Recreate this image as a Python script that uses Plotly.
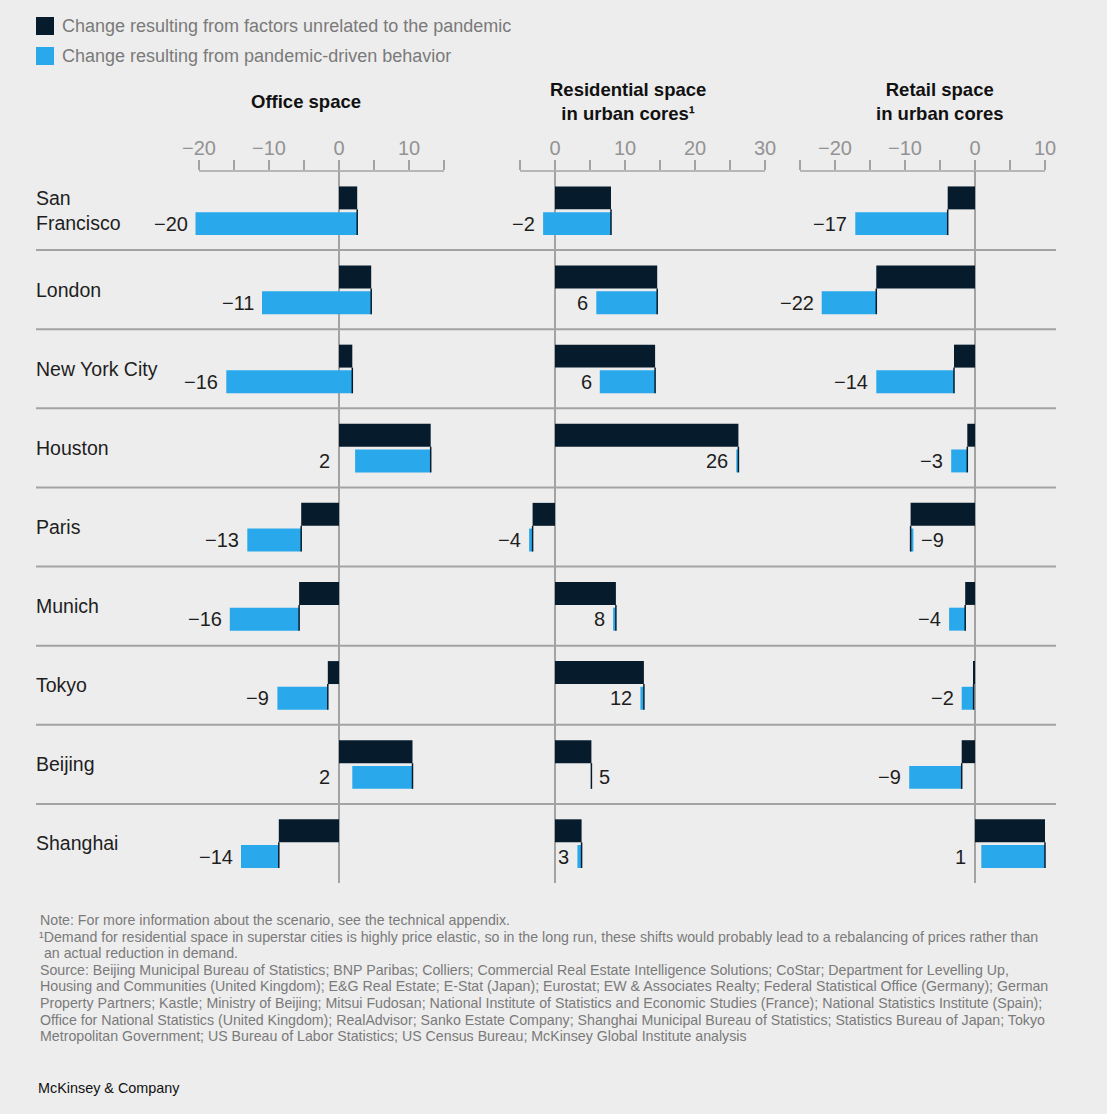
import plotly.graph_objects as go

# ---------------- data ----------------
cities = ["San Francisco", "London", "New York City", "Houston", "Paris",
          "Munich", "Tokyo", "Beijing", "Shanghai"]
city_labels = ["San<br>Francisco", "London", "New York City", "Houston", "Paris",
               "Munich", "Tokyo", "Beijing", "Shanghai"]

office_unrelated = [2.6, 4.6, 1.9, 13.1, -5.4, -5.7, -1.6, 10.5, -8.6]
office_total = [-20.5, -11.0, -16.1, 2.3, -13.1, -15.6, -8.8, 1.9, -14.0]
office_labels = ["−20", "−11", "−16", "2", "−13", "−16", "−9", "2", "−14"]

resid_unrelated = [8.0, 14.6, 14.3, 26.2, -3.2, 8.7, 12.7, 5.2, 3.8]
resid_total = [-1.7, 5.9, 6.4, 25.9, -3.7, 8.3, 12.2, 5.2, 3.2]
resid_labels = ["−2", "6", "6", "26", "−4", "8", "12", "5", "3"]

retail_unrelated = [-3.9, -14.1, -3.0, -1.1, -9.2, -1.4, -0.2, -1.9, 10.0]
retail_total = [-17.1, -21.9, -14.1, -3.4, -8.8, -3.7, -1.9, -9.4, 0.9]
retail_labels = ["−17", "−22", "−14", "−3", "−9", "−4", "−2", "−9", "1"]

office_ticks = [-20, -15, -10, -5, 0, 5, 10, 15]
office_ticktext = ["−20", "", "−10", "", "0", "", "10", ""]
resid_ticks = [-5, 0, 5, 10, 15, 20, 25, 30]
resid_ticktext = ["", "0", "", "10", "", "20", "", "30"]
retail_ticks = [-25, -20, -15, -10, -5, 0, 5, 10]
retail_ticktext = ["", "−20", "", "−10", "", "0", "", "10"]

titles = ["Office space", "Residential space<br>in urban cores¹", "Retail space<br>in urban cores"]
legend_names = ["Change resulting from factors unrelated to the pandemic",
                "Change resulting from pandemic-driven behavior"]

footnote_lines = [
    "Note: For more information about the scenario, see the technical appendix.",
    "¹Demand for residential space in superstar cities is highly price elastic, so in the long run, these shifts would probably lead to a rebalancing of prices rather than",
    " an actual reduction in demand.",
    "Source: Beijing Municipal Bureau of Statistics; BNP Paribas; Colliers; Commercial Real Estate Intelligence Solutions; CoStar; Department for Levelling Up,",
    "Housing and Communities (United Kingdom); E&G Real Estate; E-Stat (Japan); Eurostat; EW & Associates Realty; Federal Statistical Office (Germany); German",
    "Property Partners; Kastle; Ministry of Beijing; Mitsui Fudosan; National Institute of Statistics and Economic Studies (France); National Statistics Institute (Spain);",
    "Office for National Statistics (United Kingdom); RealAdvisor; Sanko Estate Company; Shanghai Municipal Bureau of Statistics; Statistics Bureau of Japan; Tokyo",
    "Metropolitan Government; US Bureau of Labor Statistics; US Census Bureau; McKinsey Global Institute analysis",
]

# ---------------- style / geometry ----------------
W, H = 1107, 1114
BG = "#ededed"
DARK = "#061c2c"
BLUE = "#2aa8ec"
GRAY_LINE = "#a3a3a3"
TICK_GRAY = "#939393"
TEXT = "#1e1e1e"
FONT = "Liberation Sans, Arial, sans-serif"
PX_PER_UNIT = 7.0
PLOT_TOP, PLOT_BOTTOM = 171, 883
BAR_W = 0.29
DARK_OFF, BLUE_OFF = -0.16, 0.165
LABEL_FS = 20
LABEL_GAP = 6


def px_x(p):
    return p / W


def px_y(p):
    return 1 - p / H


panels = [
    dict(zero=339, dom=(160, 472), unrel=office_unrelated, total=office_total,
         labels=office_labels, ticks=office_ticks, ticktext=office_ticktext, title_x=306),
    dict(zero=555, dom=(480, 788), unrel=resid_unrelated, total=resid_total,
         labels=resid_labels, ticks=resid_ticks, ticktext=resid_ticktext, title_x=628),
    dict(zero=975, dom=(795, 1100), unrel=retail_unrelated, total=retail_total,
         labels=retail_labels, ticks=retail_ticks, ticktext=retail_ticktext, title_x=939),
]

fig = go.Figure()
shapes = []
annotations = []
layout_axes = {}
n = len(cities)

for k, p in enumerate(panels):
    s = "" if k == 0 else str(k + 1)
    xa = "x" + s
    rng = [(p["dom"][0] - p["zero"]) / PX_PER_UNIT, (p["dom"][1] - p["zero"]) / PX_PER_UNIT]
    unrel, total = p["unrel"], p["total"]
    fig.add_trace(go.Bar(
        x=unrel, y=[i + DARK_OFF for i in range(n)], base=[0] * n, orientation="h",
        width=BAR_W, marker=dict(color=DARK, line=dict(width=0)),
        xaxis=xa, yaxis="y", showlegend=False, hoverinfo="skip"))
    fig.add_trace(go.Bar(
        x=[t - u for u, t in zip(unrel, total)], y=[i + BLUE_OFF for i in range(n)],
        base=unrel, orientation="h", width=BAR_W,
        marker=dict(color=BLUE, line=dict(width=0)),
        xaxis=xa, yaxis="y", showlegend=False, hoverinfo="skip"))
    layout_axes["xaxis" + s] = dict(
        domain=[px_x(p["dom"][0]), px_x(p["dom"][1])], range=rng, anchor="y", side="top",
        tickmode="array", tickvals=p["ticks"], ticktext=p["ticktext"],
        ticks="outside", ticklen=10, tickwidth=1.5, tickcolor=GRAY_LINE,
        tickfont=dict(family=FONT, size=20, color=TICK_GRAY), ticklabelstandoff=-3,
        showline=False, showgrid=False, zeroline=True, zerolinecolor=GRAY_LINE,
        zerolinewidth=2, fixedrange=True)
    # axis baseline under the ticks
    shapes.append(dict(type="line", xref=xa, yref="paper", x0=p["ticks"][0], x1=p["ticks"][-1],
                       y0=px_y(PLOT_TOP), y1=px_y(PLOT_TOP),
                       line=dict(color=GRAY_LINE, width=1.5)))
    # connector lines + value labels
    for i, (u, t, lab) in enumerate(zip(unrel, total, p["labels"])):
        shapes.append(dict(type="line", xref=xa, yref="y", x0=u, x1=u,
                           y0=i + DARK_OFF + BAR_W / 2, y1=i + BLUE_OFF + BAR_W / 2,
                           line=dict(color=DARK, width=1.5)))
        right = t >= u
        if right:
            ax, anchor, shift = max(u, t), "left", LABEL_GAP
        else:
            ax, anchor, shift = min(u, t), "right", -LABEL_GAP
            # keep the label clear of the zero line when the bar starts just right of it
            label_w = 0.56 * LABEL_FS * len(lab)
            if 0 < ax and ax * PX_PER_UNIT < label_w + LABEL_GAP + 2:
                ax, shift = 0, -7
        annotations.append(dict(
            xref=xa, yref="y", x=ax, y=i + BLUE_OFF,
            text=lab, showarrow=False, xanchor=anchor,
            xshift=shift, yanchor="middle",
            font=dict(family=FONT, size=LABEL_FS, color=TEXT)))
    annotations.append(dict(
        xref="paper", yref="paper", x=px_x(p["title_x"]), y=px_y(102), text="<b>" + titles[k] + "</b>",
        showarrow=False, xanchor="center", yanchor="middle", align="center",
        font=dict(family=FONT, size=18.5, color="#111111")))

# row separators
for i in range(n - 1):
    shapes.append(dict(type="line", xref="paper", yref="y", x0=px_x(36), x1=px_x(1056),
                       y0=i + 0.5, y1=i + 0.5, layer="below",
                       line=dict(color=GRAY_LINE, width=2)))

# city labels
for i, c in enumerate(city_labels):
    annotations.append(dict(xref="paper", yref="y", x=px_x(34), y=i, text=c, showarrow=False,
                            xanchor="left", yanchor="middle", align="left",
                            font=dict(family=FONT, size=19.5, color=TEXT)))

# legend
for j, (name, col) in enumerate(zip(legend_names, [DARK, BLUE])):
    yc = 26 + 30 * j
    shapes.append(dict(type="rect", xref="paper", yref="paper", x0=px_x(36), x1=px_x(54),
                       y0=px_y(yc - 9), y1=px_y(yc + 9), fillcolor=col, line=dict(width=0)))
    annotations.append(dict(xref="paper", yref="paper", x=px_x(60), y=px_y(yc), text=name,
                            showarrow=False, xanchor="left", yanchor="middle",
                            font=dict(family=FONT, size=18, color="#7a7a7a")))

# footnotes, one line each
for k, line in enumerate(footnote_lines):
    annotations.append(dict(xref="paper", yref="paper", x=px_x(37 if k == 1 else 38),
                            y=px_y(920 + 16.6 * k), text=line,
                            showarrow=False, xanchor="left", yanchor="middle", align="left",
                            font=dict(family=FONT, size=14.2, color="#7a7a7a")))
annotations.append(dict(xref="paper", yref="paper", x=px_x(36), y=px_y(1088), text="McKinsey & Company",
                        showarrow=False, xanchor="left", yanchor="middle",
                        font=dict(family=FONT, size=14.4, color="#111111")))

fig.update_layout(
    width=W, height=H, margin=dict(l=0, r=0, t=0, b=0),
    paper_bgcolor=BG, plot_bgcolor="rgba(0,0,0,0)",
    barmode="overlay", showlegend=False,
    yaxis=dict(domain=[px_y(PLOT_BOTTOM), px_y(PLOT_TOP)], range=[n - 0.5, -0.5],
               visible=False, fixedrange=True),
    shapes=shapes, annotations=annotations,
    font=dict(family=FONT),
    **layout_axes,
)

fig.write_html("out.html", config={"displayModeBar": False},
               post_script="document.body.style.margin='0';document.body.style.background='#ededed';")
